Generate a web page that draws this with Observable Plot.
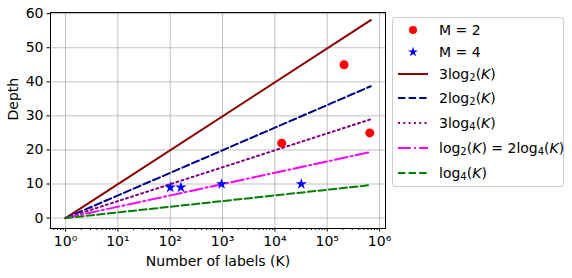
<!DOCTYPE html>
<html><head><meta charset="utf-8">
<script src="https://cdn.jsdelivr.net/npm/d3@7"></script>
<script src="https://cdn.jsdelivr.net/npm/@observablehq/plot@0.6"></script>
<style>
body{margin:0;background:#fff;font-family:"DejaVu Sans",sans-serif;}
#wrap{position:relative;width:572px;height:278px;}
#legend{position:absolute;left:392px;top:17px;width:172px;height:170px;border:1px solid #d0d0d0;border-radius:3px;box-sizing:border-box;background:#fff;}
.row{position:absolute;left:0;height:20px;display:flex;align-items:center;font-size:14px;color:#000;white-space:nowrap;}
.row svg{width:32px;height:20px;margin-left:4px;flex:none;}
.row span.t{margin-left:10px;}
sub{font-size:10px;vertical-align:-2px;line-height:0;}
</style></head>
<body><div id="wrap"><div id="legend"></div></div>
<script>
// Measured points
const m2K = [13500, 210000, 650000];
const m2Depth = [22, 45, 25];
const m4K = [100, 160, 960, 32000];
const m4Depth = [9, 9, 10, 10];
// Reference lines (endpoints on log axis, straight lines)
const lineK = [1, 680000];
const lineNames = ["3log2", "2log2", "3log4", "log2", "log4"];
const lineEnd = [58.1, 38.7, 29.0, 19.4, 9.7];
const lineColors = ["#8b0000", "#00008b", "#800080", "#ff00ff", "#008000"];
const lineDash = [null, "7.4,3.2", "2,3.3", "12.8,3.2,2,3.2", "7.4,3.2"];
const legendLabels = [
  "M = 2", "M = 4",
  "3log<sub>2</sub>(<i>K</i>)", "2log<sub>2</sub>(<i>K</i>)", "3log<sub>4</sub>(<i>K</i>)",
  "log<sub>2</sub>(<i>K</i>) = 2log<sub>4</sub>(<i>K</i>)", "log<sub>4</sub>(<i>K</i>)"
];
const legendRowY = [29, 51, 73, 97, 122, 147, 172];
const xMajor = [1, 10, 100, 1000, 10000, 100000, 1000000];
const xMinorFactors = [2, 3, 4, 5, 6, 7, 8, 9];
const yTicks = [0, 10, 20, 30, 40, 50, 60];
const sup = {"0":"⁰","1":"¹","2":"²","3":"³","4":"⁴","5":"⁵","6":"⁶"};

const xMinor = [];
for (let e = -1; e <= 6; e++) for (const f of xMinorFactors) {
  const v = f * Math.pow(10, e);
  if (v > 0.52 && v < 1.3e6) xMinor.push(v);
}
const lineData = [];
lineNames.forEach((n, i) => {
  lineData.push({name: n, K: lineK[0], d: 0, i});
  lineData.push({name: n, K: lineK[1], d: lineEnd[i], i});
});
const m2 = m2K.map((k, i) => ({K: k, d: m2Depth[i]}));
const m4 = m4K.map((k, i) => ({K: k, d: m4Depth[i]}));

const chart = Plot.plot({
  width: 572, height: 278,
  marginLeft: 50, marginRight: 187, marginTop: 12, marginBottom: 50,
  style: {fontFamily: "DejaVu Sans", fontSize: "14px", color: "#000", background: "#fff"},
  x: {type: "log", domain: [0.516, 1.3e6]},
  y: {domain: [-3.06, 60.35]},
  marks: [
    Plot.gridX(xMajor, {stroke: "#b0b0b0", strokeOpacity: 1, strokeWidth: 0.8}),
    Plot.gridY(yTicks, {stroke: "#b0b0b0", strokeOpacity: 1, strokeWidth: 0.8}),
    ...lineNames.map((n, i) => Plot.line(lineData.filter(d => d.i === i), {
      x: "K", y: "d", stroke: lineColors[i], strokeWidth: 2,
      strokeDasharray: lineDash[i] || undefined
    })),
    Plot.dot(m2, {x: "K", y: "d", r: 4.5, fill: "#ff0000", stroke: "none"}),
    Plot.dot(m4, {x: "K", y: "d", r: 3.5, symbol: "star", fill: "#0000ff", stroke: "none"}),
    Plot.axisX(xMinor, {tickSize: 2, tickFormat: () => "", label: null, stroke: "#000"}),
    Plot.axisX(xMajor, {tickSize: 3.5, tickPadding: 4, label: null,
      tickFormat: d => "10" + sup[String(Math.round(Math.log10(d)))], fontSize: 14, fill: "#000"}),
    Plot.axisY(yTicks, {tickSize: 3.5, tickPadding: 3.5, label: null, fontSize: 14, fill: "#000"}),
    Plot.frame({stroke: "#000", strokeWidth: 1}),
    Plot.text(["Number of labels (K)"], {frameAnchor: "bottom", dy: 37, fontSize: 14, fill: "#000"}),
    Plot.text(["Depth"], {frameAnchor: "left", dx: -37, rotate: -90, fontSize: 14, fill: "#000"})
  ]
});
const wrap = document.getElementById("wrap");
wrap.insertBefore(chart, wrap.firstChild);
chart.style.position = "absolute"; chart.style.left = "0"; chart.style.top = "0";

const legend = document.getElementById("legend");
legendLabels.forEach((lab, j) => {
  const row = document.createElement("div");
  row.className = "row";
  row.style.top = (legendRowY[j] - 17 - 10) + "px";
  let sym;
  if (j === 0) sym = `<circle cx="16" cy="10" r="4" fill="#ff0000"/>`;
  else if (j === 1) sym = `<path transform="translate(16,10)" d="${d3.symbol(d3.symbolStar, Math.PI*3.1*3.1)()}" fill="#0000ff"/>`;
  else {
    const i = j - 2;
    sym = `<line x1="1" y1="10" x2="31" y2="10" stroke="${lineColors[i]}" stroke-width="2" ${lineDash[i] ? `stroke-dasharray="${lineDash[i]}"` : ""}/>`;
  }
  row.innerHTML = `<svg viewBox="0 0 32 20">${sym}</svg><span class="t">${lab}</span>`;
  legend.appendChild(row);
});
</script>
</body></html>
